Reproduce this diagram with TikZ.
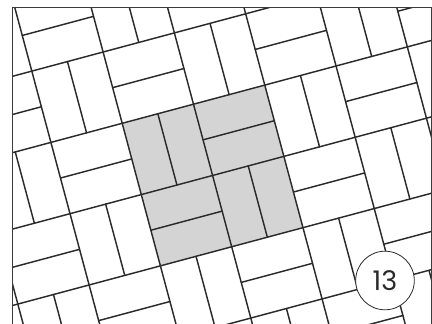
\documentclass[tikz,border=0pt]{standalone}
\usepackage{fontspec}
\newfontfamily\numfont{Poppins}
\definecolor{tileline}{HTML}{2A2A2A}
\definecolor{grayfill}{HTML}{D4D4D4}
\definecolor{framecol}{HTML}{3C3C3C}
\begin{document}
\begin{tikzpicture}[x=1pt,y=-1pt,
  tile/.style={draw=tileline,line width=1.45pt,line cap=round},
  framestyle/.style={draw=framecol,line width=0.9pt},
  badge/.style={circle,draw=tileline,line width=0.8pt,fill=white,minimum size=58.6pt,inner sep=0pt,
    font=\numfont\fontsize{27}{27}\selectfont,text=tileline}]
\useasboundingbox (0,0) rectangle (432,324);
\fill[white] (0,0) rectangle (432,324);
\def\s{73.8}
\begin{scope}
  \clip (12,7) rectangle (431.3,330);
  \begin{scope}[shift={(122.2,123.3)},rotate=15]
    \fill[grayfill] (0,0) rectangle (2*\s,2*\s);
    \foreach \k in {-4,...,6}{
      \draw[tile] (\k*\s,-4*\s) -- (\k*\s,6*\s);
      \draw[tile] (-4*\s,\k*\s) -- (6*\s,\k*\s);
    }
    \foreach \i in {-4,...,5}{
      \foreach \j in {-4,...,5}{
        \pgfmathtruncatemacro\tpar{mod(\i+\j+20,2)}
        \ifnum\tpar=0
          \draw[tile] ({(\i+0.5)*\s},{\j*\s}) -- ({(\i+0.5)*\s},{(\j+1)*\s});
        \else
          \draw[tile] ({\i*\s},{(\j+0.5)*\s}) -- ({(\i+1)*\s},{(\j+0.5)*\s});
        \fi
      }
    }
  \end{scope}
\end{scope}
\draw[framestyle] (12,330) -- (12,7) -- (431.3,7) -- (431.3,330);
\node[badge] (num) at (385,280.5) {13};
\end{tikzpicture}
\end{document}
